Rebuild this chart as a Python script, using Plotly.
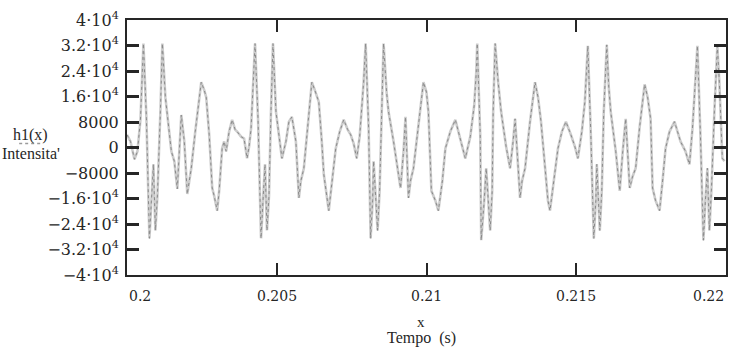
import plotly.graph_objects as go

# Sampled waveform h1(x): time offset after 0.2 s (milliseconds) and intensity
t_ms = [
    0.000, 0.116, 0.250, 0.349, 0.449, 0.549, 0.649, 0.749, 0.815, 0.882, 0.948, 1.015, 1.115, 1.181,
    1.281, 1.381, 1.481, 1.580, 1.680, 1.747, 1.813, 1.913, 2.013, 2.079, 2.146, 2.279, 2.412, 2.479,
    2.578, 2.645, 2.745, 2.845, 2.911, 3.011, 3.077, 3.177, 3.244, 3.310, 3.410, 3.510, 3.610, 3.676,
    3.809, 3.909, 4.009, 4.076, 4.142, 4.209, 4.275,
    4.375, 4.475, 4.541, 4.608, 4.674, 4.741, 4.807, 4.874, 4.974, 5.074, 5.173, 5.307, 5.406, 5.506,
    5.639, 5.739, 5.805, 5.905, 6.038, 6.172, 6.271, 6.404, 6.504, 6.571, 6.737, 6.837, 6.970, 7.103,
    7.236, 7.369, 7.469, 7.569, 7.669, 7.768, 7.835, 7.901, 7.968,
    8.068, 8.134, 8.201, 8.234, 8.367, 8.434, 8.500, 8.567, 8.667, 8.733, 8.900, 9.066, 9.133, 9.233,
    9.299, 9.399, 9.465, 9.565, 9.732, 9.898, 9.998, 10.064, 10.164, 10.297, 10.397, 10.530, 10.630,
    10.796, 10.963, 11.129, 11.295, 11.462, 11.594, 11.661, 11.694,
    11.794, 11.827, 11.927, 11.993, 12.126, 12.193, 12.226, 12.292, 12.392, 12.492, 12.658, 12.791,
    12.891, 12.958, 13.124, 13.191, 13.291, 13.457, 13.624, 13.724, 13.823, 13.956, 14.056, 14.123,
    14.256, 14.389, 14.522, 14.655, 14.821, 14.954, 15.054, 15.187, 15.287, 15.353, 15.387,
    15.487, 15.586, 15.653, 15.686, 15.786, 15.852, 15.919, 16.019, 16.086, 16.152, 16.319, 16.452,
    16.552, 16.651, 16.785, 16.884, 16.984, 17.117, 17.283, 17.383, 17.483, 17.549, 17.649, 17.782,
    17.882, 17.982, 18.115, 18.281, 18.381, 18.481, 18.647, 18.780, 18.880, 18.980, 19.046,
    19.146, 19.246, 19.312, 19.379, 19.445, 19.512, 19.612, 19.711, 19.778, 19.811, 19.878, 19.950,
]
intensity = [
    4000, 1900, -3700, -1200, 8700, 32600, 9000, -28500, -16700, -5300, -26000, -15200, 11200, 32600,
    15800, 8100, -1200, -4300, -13000, -1200, 10200, 1900, -14600, -10500, -6500, 5000, 15800, 20500,
    18000, 15800, 4000, -12700, -15200, -19800, -13600, -300, 1900, -1200, 5000, 8700, 5600, 5000,
    3400, 2800, -3400, 300, 5900, 17400, 32600,
    9000, -28500, -16700, -5300, -26000, -15200, 11200, 32600, 11200, 3400, -3400, 1900, 8100, 9600,
    1900, -15800, -10500, -6500, 8100, 20500, 18000, 14300, 1900, -8400, -19800, -12100, -300, 5000,
    8700, 5600, 4000, 1200, -3400, 3400, 11200, 20500, 32600,
    5900, -28500, -16700, -4300, -26000, -13600, 11200, 32600, 17400, 11200, 1900, -9000, -12700, -1200,
    9600, -15800, -10500, -6500, 8100, 20500, 17400, 11200, -13600, -16700, -19800, -10500, -300,
    5000, 8700, 2500, -3400, 3400, 13300, 23600, 32600,
    4000, -29100, -16700, -6500, -26000, -13600, 11200, 32600, 20500, 11200, 300, -6500,
    1900, 9000, -15800, -10500, -6500, 8100, 20500, 15800, 8100, -7400, -16700, -19800,
    -10500, -300, 5000, 8100, 4000, 300, -3400, 5000, 14300, 23600, 31900,
    4000, -28500, -16700, -5300, -26000, -13600, 11200, 32200, 18900, 11200, -1200, -13600,
    -1200, 9000, -12700, -9000, -6500, 6500, 19800, 15800, 9000, -12700, -16700, -19800,
    -10500, -300, 5000, 8100, 5000, 1900, -1200, -5300, 5900, 20500, 31900,
    4000, -29100, -16700, -6500, -26000, -13600, 11200, 31900, 20500, 11200, -3400, -4300,
]

x_ticks = [0.2, 0.205, 0.21, 0.215, 0.22]
x_tick_text = ["0.2", "0.205", "0.21", "0.215", "0.22"]
y_ticks = [40000, 32000, 24000, 16000, 8000, 0, -8000, -16000, -24000, -32000, -40000]
y_tick_text = [
    "4·10<sup>4</sup>", "3.2·10<sup>4</sup>", "2.4·10<sup>4</sup>", "1.6·10<sup>4</sup>",
    "8000", "0", "−8000",
    "−1.6·10<sup>4</sup>", "−2.4·10<sup>4</sup>", "−3.2·10<sup>4</sup>", "−4·10<sup>4</sup>",
]

time_s = [0.2 + v / 1000.0 for v in t_ms]

SERIF = "Liberation Serif"
WIDE_SERIF = "DejaVu Serif"
INK = "#262626"

fig = go.Figure()
# light grey body of the dotted trace
fig.add_trace(go.Scatter(
    x=time_s, y=intensity, mode="lines",
    line=dict(color="#cdcdcd", width=2.6),
    hoverinfo="skip", showlegend=False,
))
# darker dots on top
fig.add_trace(go.Scatter(
    x=time_s, y=intensity, mode="lines",
    line=dict(color="#8a8a8a", width=1, dash="dot"),
    showlegend=False,
))

axis_common = dict(
    showgrid=False, zeroline=False,
    showline=True, linecolor=INK, linewidth=2, mirror="ticks",
    ticks="inside", tickcolor=INK,
)

# x tick labels are drawn as annotations so the end labels sit inside the frame
fig.update_xaxes(
    range=[0.2, 0.22], tickvals=x_ticks, showticklabels=False,
    ticklen=12, tickwidth=2, **axis_common,
)
fig.update_yaxes(
    range=[-40000, 40000], tickvals=y_ticks, ticktext=y_tick_text,
    ticklen=12, tickwidth=3, ticklabelstandoff=3,
    tickfont=dict(family=WIDE_SERIF, size=16, color=INK),
    **axis_common,
)

for i, (xv, label) in enumerate(zip(x_ticks, x_tick_text)):
    anchor = "left" if i == 0 else ("right" if i == len(x_ticks) - 1 else "center")
    fig.add_annotation(x=xv, y=-0.083, xref="x", yref="paper", text=label,
                       xanchor=anchor, yanchor="middle", showarrow=False,
                       font=dict(family=WIDE_SERIF, size=14, color=INK))

# axis titles in Mathcad style: expression above, description below
fig.add_annotation(x=-0.161, y=0.55, xref="paper", yref="paper", text="h1(x)",
                   xanchor="center", yanchor="middle", showarrow=False,
                   font=dict(family=SERIF, size=16, color=INK))
fig.add_annotation(x=-0.161, y=0.476, xref="paper", yref="paper", text="Intensita'",
                   xanchor="center", yanchor="middle", showarrow=False,
                   font=dict(family=SERIF, size=16, color=INK))
fig.add_shape(type="line", xref="paper", yref="paper", x0=-0.180, x1=-0.143, y0=0.516, y1=0.516,
              line=dict(color="#9a9a9a", width=1.5, dash="dot"))
fig.add_annotation(x=0.491, y=-0.186, xref="paper", yref="paper", text="x",
                   xanchor="center", yanchor="middle", showarrow=False,
                   font=dict(family=SERIF, size=15, color=INK))
fig.add_annotation(x=0.491, y=-0.248, xref="paper", yref="paper", text="Tempo  (s)",
                   xanchor="center", yanchor="middle", showarrow=False,
                   font=dict(family=SERIF, size=16, color=INK))

fig.update_layout(
    width=737, height=354,
    margin=dict(l=127, r=9, t=17, b=79),
    paper_bgcolor="white", plot_bgcolor="white",
)

fig.write_html("out.html")
